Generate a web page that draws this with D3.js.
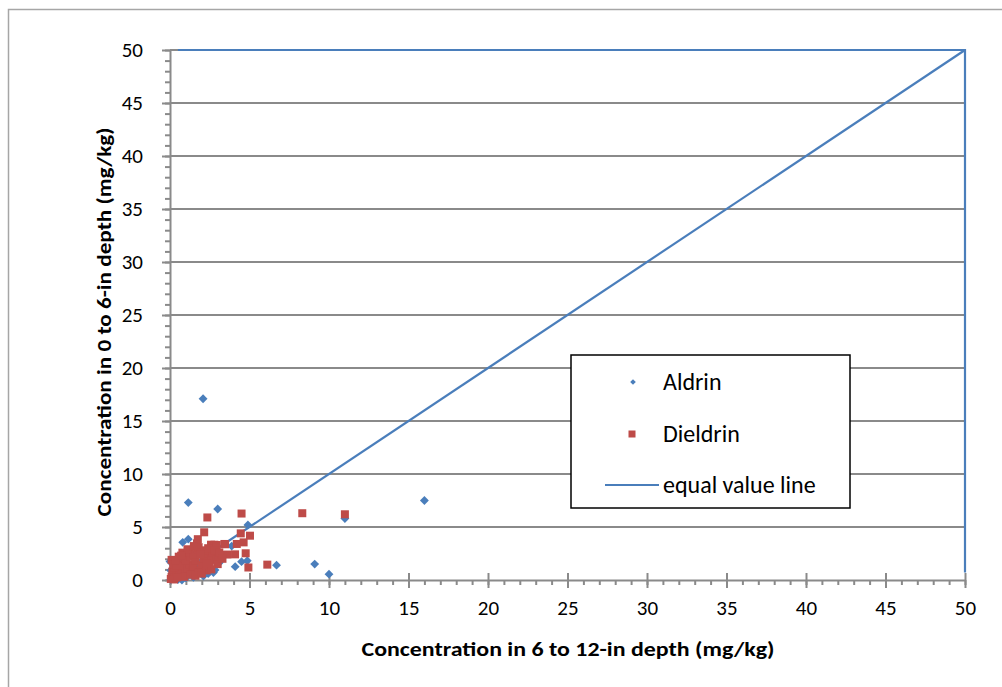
<!DOCTYPE html>
<html>
<head>
<meta charset="utf-8">
<script src="https://cdn.jsdelivr.net/npm/d3@7"></script>
<style>
  body { margin: 0; background: #fff; }
  text { font-family: Carlito, Lato, "Liberation Sans", sans-serif; fill: #000; }
</style>
</head>
<body>
<div id="chart-container"></div>
<script>
// Aldrin: [6 to 12-in, 0 to 6-in] (mg/kg)
const aldrin = [
    [0.05, 0.05], [0.5, 0.05], [0.75, 0.0], [1.0, 0.2], [1.47, 0.25], [2.1, 0.38],
    [2.73, 0.7], [2.83, 0.94], [3.1, 1.63], [1.26, 2.67], [0.8, 3.55], [1.15, 3.85],
    [3.88, 3.2], [4.5, 1.73], [4.86, 1.82], [4.1, 1.26], [4.9, 5.2], [3.0, 6.7],
    [1.15, 7.3], [2.08, 17.1], [6.7, 1.4], [9.1, 1.5], [10.0, 0.55], [11.0, 5.8],
    [16.0, 7.5], [0.5, 0.5], [1.0, 1.0], [1.5, 1.0], [2.0, 1.5], [2.5, 2.0],
    [0.3, 1.0], [1.8, 1.2], [0.0, 1.75], [0.05, 0.9], [0.1, 0.4], [2.4, 0.6]
];

// Dieldrin: [6 to 12-in, 0 to 6-in] (mg/kg)
const dieldrin = [
    [0.05, 0.1], [0.1, 0.3], [0.2, 0.5], [0.15, 0.8], [0.3, 0.2], [0.4, 0.6],
    [0.5, 1.0], [0.3, 1.2], [0.1, 1.9], [0.2, 1.5], [0.6, 0.4], [0.7, 0.9],
    [0.8, 1.3], [0.6, 1.6], [0.9, 2.0], [0.78, 2.58], [1.0, 0.6], [1.1, 1.1],
    [1.2, 1.5], [1.0, 1.8], [1.3, 2.2], [1.2, 2.6], [1.4, 0.9], [1.5, 1.3],
    [1.6, 1.8], [1.5, 2.4], [1.7, 2.9], [1.75, 3.85], [1.7, 3.46], [1.8, 3.1],
    [1.9, 0.9], [2.0, 1.4], [2.1, 2.0], [2.0, 2.6], [2.2, 2.3], [2.15, 4.5],
    [2.35, 5.9], [2.4, 1.2], [2.5, 1.7], [2.58, 3.33], [2.79, 3.33], [2.6, 2.2],
    [2.7, 2.6], [2.9, 1.9], [2.94, 3.3], [3.04, 2.2], [3.25, 2.36], [3.0, 1.5],
    [3.42, 3.4], [3.46, 3.37], [4.2, 3.4], [4.09, 2.42], [4.76, 2.52], [4.45, 4.4],
    [5.03, 4.18], [4.63, 3.55], [4.5, 6.27], [4.93, 1.18], [6.12, 1.45], [8.32, 6.3],
    [11.0, 6.2], [0.4, 1.4], [0.9, 0.3], [1.3, 0.5], [1.8, 0.7], [2.3, 0.9],
    [2.6, 1.0], [0.25, 0.05], [0.55, 2.2], [1.1, 2.9], [1.5, 3.2], [2.2, 2.8],
    [2.4, 3.0], [2.8, 2.8], [3.1, 2.6], [3.6, 2.4], [0.35, 1.8], [0.7, 2.3],
    [1.9, 2.4], [2.3, 1.6], [3.3, 2.0], [0.45, 0.25], [1.6, 0.4], [2.0, 0.6]
];

// equal value line, plus the segment Excel drew along the top and right edges
const equalLine = [[0, 0], [50, 50]];
const edgeLine = [[0.5, 50], [50, 50], [50, 0.7]];

const majorTicks = [0, 5, 10, 15, 20, 25, 30, 35, 40, 45, 50];
const minorTicks = d3.range(0, 51);

const legendItems = ["Aldrin", "Dieldrin", "equal value line"];

const blue = "#4a7ebb";
const red = "#be4b48";
const grey = "#8a8a8a";

const margin = { top: 50, left: 170 };
const width = 795;
const height = 530;

const svg = d3
    .select("#chart-container")
    .append("svg")
    .attr("width", 1002)
    .attr("height", 687);

// outer chart border
svg.append("rect")
    .attr("x", 8.5)
    .attr("y", 9.5)
    .attr("width", 1100)
    .attr("height", 800)
    .attr("fill", "#fff")
    .attr("stroke", "#a6a6a6")
    .attr("stroke-width", 1.5);

const g = svg.append("g")
    .attr("transform", "translate(" + margin.left + "," + margin.top + ")");

const xScale = d3.scaleLinear().domain([0, 50]).range([0, width]);
const yScale = d3.scaleLinear().domain([0, 50]).range([height, 0]);

// horizontal gridlines
g.append("g")
    .selectAll("line")
    .data(majorTicks.filter((d) => d > 0))
    .enter()
    .append("line")
    .attr("x1", 0)
    .attr("x2", width)
    .attr("y1", (d) => yScale(d))
    .attr("y2", (d) => yScale(d))
    .attr("stroke", grey)
    .attr("stroke-width", 2);

// minor ticks
g.append("g")
    .attr("transform", "translate(0," + height + ")")
    .call(d3.axisBottom(xScale).tickValues(minorTicks).tickSize(5).tickFormat(""))
    .call((a) => a.select(".domain").remove())
    .call((a) => a.selectAll("line").attr("stroke", grey).attr("stroke-width", 2));

g.append("g")
    .call(d3.axisLeft(yScale).tickValues(minorTicks).tickSize(5).tickFormat(""))
    .call((a) => a.select(".domain").remove())
    .call((a) => a.selectAll("line").attr("stroke", grey).attr("stroke-width", 2));

// major ticks and labels
const xAxis = g.append("g")
    .attr("transform", "translate(0," + height + ")")
    .call(d3.axisBottom(xScale).tickValues(majorTicks).tickSizeInner(8).tickSizeOuter(0).tickPadding(12));
xAxis.selectAll(".tick line").attr("y1", -7).attr("stroke", grey).attr("stroke-width", 2);

const yAxis = g.append("g")
    .call(d3.axisLeft(yScale).tickValues(majorTicks).tickSizeInner(8).tickSizeOuter(0).tickPadding(19));
yAxis.selectAll(".tick line").attr("stroke", grey).attr("stroke-width", 2);

[xAxis, yAxis].forEach((a) => {
    a.select(".domain").attr("stroke", grey).attr("stroke-width", 2);
    a.selectAll(".tick text")
        .attr("font-size", 21)
        .attr("font-family", "Carlito, Lato, sans-serif")
        .attr("fill", "#000");
});

// lines
const line = d3.line()
    .x((d) => xScale(d[0]))
    .y((d) => yScale(d[1]));

g.append("path")
    .datum(equalLine)
    .attr("d", line)
    .attr("fill", "none")
    .attr("stroke", blue)
    .attr("stroke-width", 2.2);

g.append("path")
    .datum(edgeLine)
    .attr("d", line)
    .attr("fill", "none")
    .attr("stroke", blue)
    .attr("stroke-width", 2.2);

// Aldrin diamonds
const diamond = d3.symbol().type(d3.symbolDiamond2).size(50);
g.append("g")
    .selectAll("path")
    .data(aldrin)
    .enter()
    .append("path")
    .attr("d", diamond)
    .attr("transform", (d) => "translate(" + xScale(d[0]) + "," + yScale(d[1]) + ")")
    .attr("fill", blue);

// Dieldrin squares
g.append("g")
    .selectAll("rect")
    .data(dieldrin)
    .enter()
    .append("rect")
    .attr("x", (d) => xScale(d[0]) - 4)
    .attr("y", (d) => yScale(d[1]) - 4)
    .attr("width", 8)
    .attr("height", 8)
    .attr("fill", red);

// axis titles
svg.append("text")
    .attr("x", 568)
    .attr("y", 656)
    .attr("text-anchor", "middle")
    .attr("font-size", 21)
    .attr("font-weight", "bold")
    .attr("textLength", 413)
    .attr("lengthAdjust", "spacingAndGlyphs")
    .text("Concentration in 6 to 12-in depth (mg/kg)");

svg.append("text")
    .attr("transform", "translate(111,322) rotate(-90)")
    .attr("text-anchor", "middle")
    .attr("font-size", 21)
    .attr("font-weight", "bold")
    .attr("textLength", 389)
    .attr("lengthAdjust", "spacingAndGlyphs")
    .text("Concentration in 0 to 6-in depth (mg/kg)");

// legend
const legend = svg.append("g").attr("transform", "translate(571,355)");
legend.append("rect")
    .attr("width", 279)
    .attr("height", 153)
    .attr("fill", "#fff")
    .attr("stroke", "#000")
    .attr("stroke-width", 1.5);

const ly = [27, 79, 130];
legend.selectAll("text")
    .data(legendItems)
    .enter()
    .append("text")
    .attr("x", 92)
    .attr("y", (d, i) => ly[i])
    .attr("dy", "0.35em")
    .attr("font-size", 24)
    .text((d) => d);

legend.append("path")
    .attr("d", d3.symbol().type(d3.symbolDiamond2).size(20))
    .attr("transform", "translate(62," + ly[0] + ")")
    .attr("fill", blue);
legend.append("rect")
    .attr("x", 57.5)
    .attr("y", ly[1] - 3.5)
    .attr("width", 7)
    .attr("height", 7)
    .attr("fill", red);
legend.append("line")
    .attr("x1", 34)
    .attr("x2", 88)
    .attr("y1", ly[2])
    .attr("y2", ly[2])
    .attr("stroke", blue)
    .attr("stroke-width", 2.2);
</script>
</body>
</html>
